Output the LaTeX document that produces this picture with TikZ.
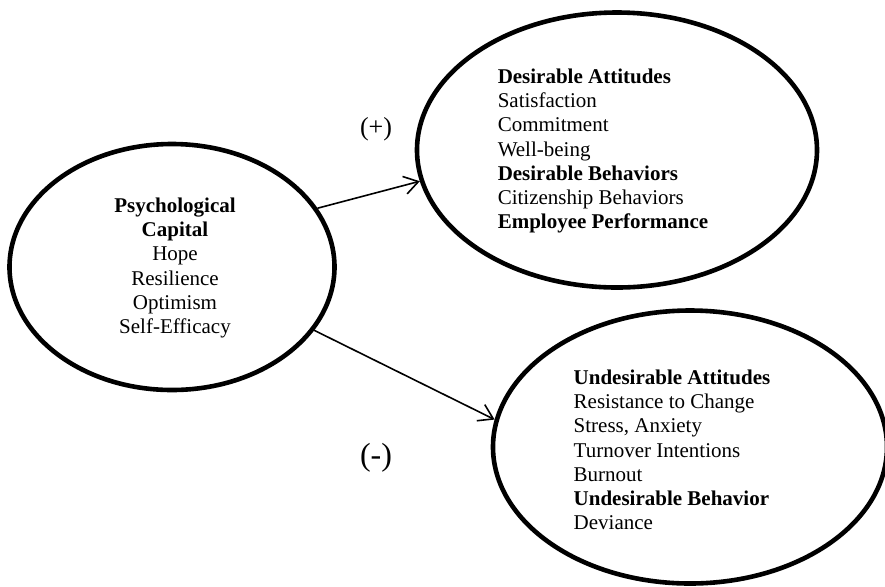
\documentclass[tikz,border=0pt]{standalone}
\usepackage{fontspec}
\setmainfont{Liberation Serif}
\usetikzlibrary{shapes.geometric, arrows.meta}

\begin{document}
\begin{tikzpicture}[x=0.5pt, y=-0.5pt,
    every node/.style={font=\fontsize{10.5}{12.1}\selectfont, inner sep=0pt},
    oval/.style={draw, ellipse, line width=2.3pt},
    link/.style={-{Straight Barb[length=7pt, width=9pt]}, line width=0.8pt}]
  \useasboundingbox (0, 0) rectangle (885, 586);
  \node [oval, minimum width=162.5pt, minimum height=123pt] (pc) at (172, 267) {};
  \node [oval, minimum width=200pt, minimum height=137.5pt] (good) at (617, 150) {};
  \node [oval, minimum width=197pt, minimum height=136.5pt] (bad) at (690, 447) {};
  \node [align=center] (pctext) at (175, 268) {\textbf{Psychological}\\ \textbf{Capital}\\ Hope\\ Resilience\\ Optimism\\ Self-Efficacy};
  \node [align=left] (goodtext) at (603, 151) {\textbf{Desirable Attitudes}\\ Satisfaction\\ Commitment\\ Well-being\\ \textbf{Desirable Behaviors}\\ Citizenship Behaviors\\ \textbf{Employee Performance}};
  \node [align=left] (badtext) at (672, 450) {\textbf{Undesirable Attitudes}\\ Resistance to Change\\ Stress, Anxiety\\ Turnover Intentions\\ Burnout\\ \textbf{Undesirable Behavior}\\ Deviance};
  \draw [link] (pc.22) -- (good.189);
  \draw [link] (pc.-24) -- (bad.172);
  \node [font=\fontsize{13}{15}\selectfont] (plus) at (376, 129) {(+)};
  \node [font=\fontsize{16}{18}\selectfont] (minus) at (376, 458) {(-)};
\end{tikzpicture}
\end{document}
